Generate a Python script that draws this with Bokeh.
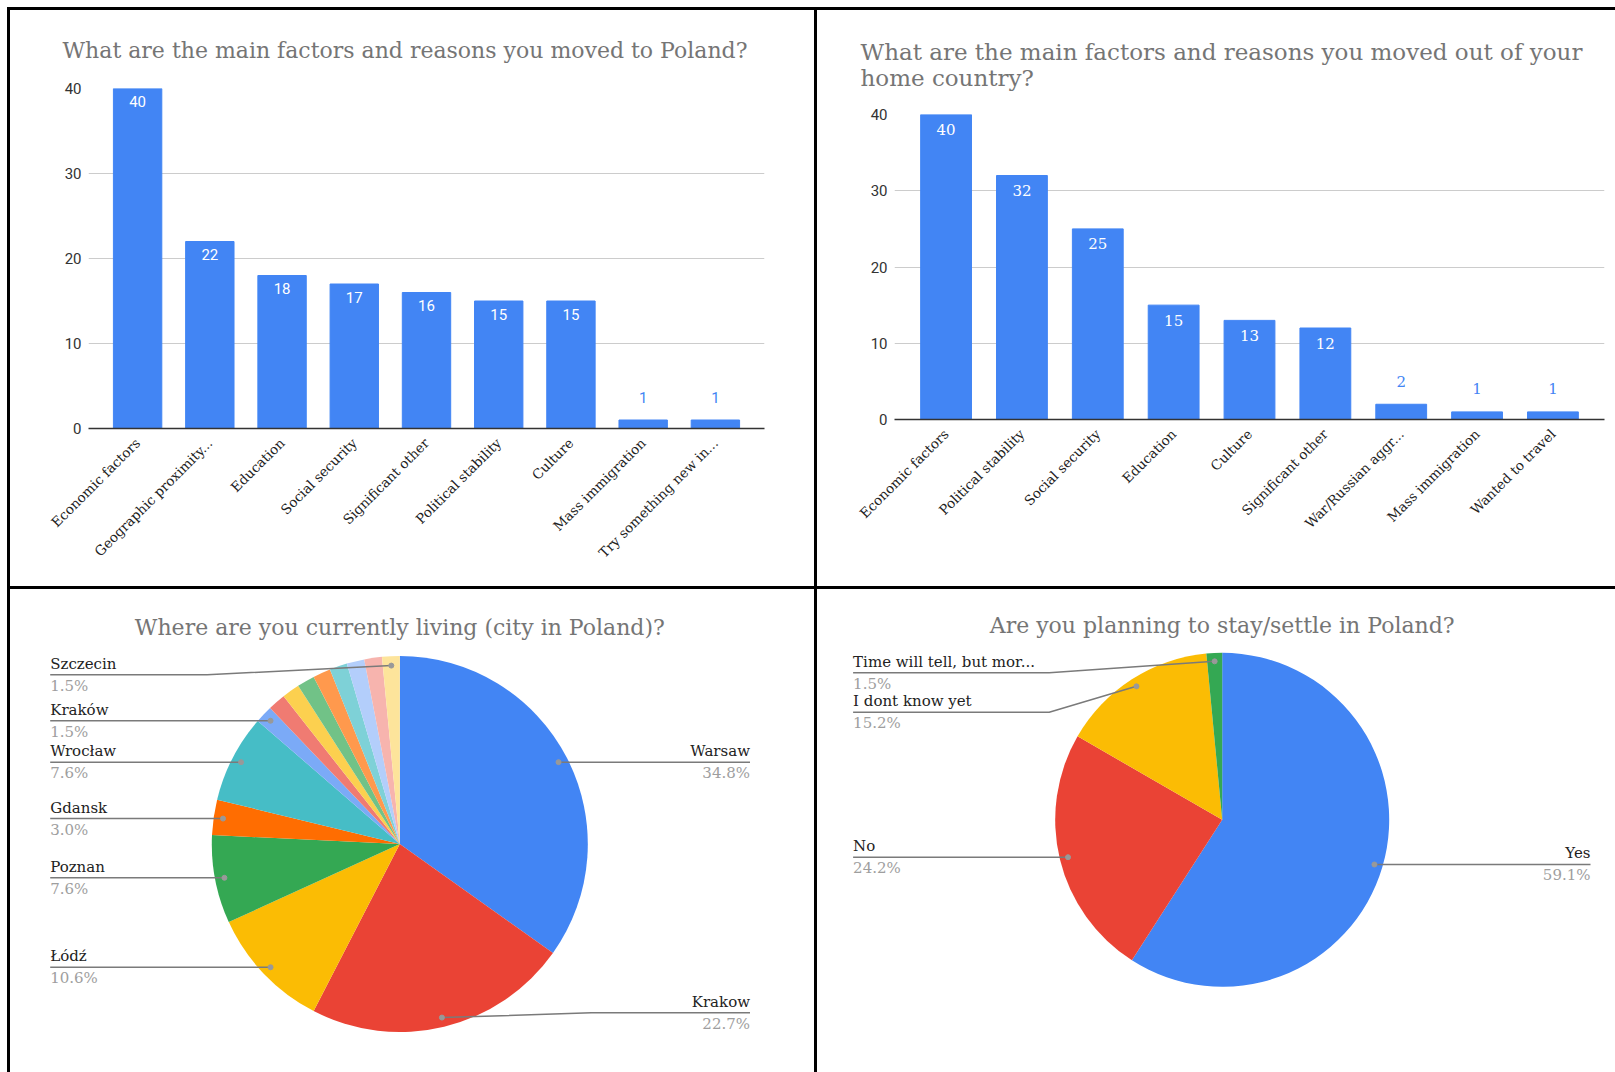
import math
from bokeh.plotting import figure
from bokeh.layouts import row, column
from bokeh.models import FactorRange, Range1d, FixedTicker, ColumnDataSource
from bokeh.core.properties import value
from bokeh.embed import file_html
from bokeh.resources import INLINE

# ---------------- DATA ----------------
moved_to_title = "What are the main factors and reasons you moved to Poland?"
moved_to_cats = ["Economic factors", "Geographic proximity...", "Education", "Social security",
                 "Significant other", "Political stability", "Culture", "Mass immigration",
                 "Try something new in..."]
moved_to_vals = [40, 22, 18, 17, 16, 15, 15, 1, 1]

moved_out_title = "What are the main factors and reasons you moved out of your\nhome country?"
moved_out_cats = ["Economic factors", "Political stability", "Social security", "Education",
                  "Culture", "Significant other", "War/Russian aggr...", "Mass immigration",
                  "Wanted to travel"]
moved_out_vals = [40, 32, 25, 15, 13, 12, 2, 1, 1]

y_ticks = [0, 10, 20, 30, 40]

city_title = "Where are you currently living (city in Poland)?"
city_names = ["Warsaw", "Krakow", "Łódź", "Poznan", "Gdansk", "Wrocław", "Kraków",
              "", "", "", "", "", "", "", "Szczecin"]
city_counts = [23, 15, 7, 5, 2, 5, 1, 1, 1, 1, 1, 1, 1, 1, 1]

stay_title = "Are you planning to stay/settle in Poland?"
stay_names = ["Yes", "No", "I dont know yet", "Time will tell, but mor..."]
stay_counts = [39, 16, 10, 1]

# ---------------- STYLE ----------------
BLUE = "#4285f4"
PALETTE = ["#4285f4", "#ea4335", "#fbbc04", "#34a853", "#ff6d01", "#46bdc6", "#7baaf7",
           "#f07b72", "#fcd04f", "#71c287", "#ff994d", "#7ed1d7", "#b3cefb", "#f7b4ae", "#fde49b"]
SERIF = "DejaVu Serif"
TITLE_COLOR = "#757575"
WHITE_BG = {"background-color": "white"}


def bar_panel(cats, vals, title, W, H, borders, value_font, in_off, out_off, t_offset,
              t_standoff, t_size):
    left, right, top, bottom = borders
    p = figure(width=W, height=H,
               x_range=FactorRange(factors=cats, range_padding=0.18, range_padding_units="absolute"),
               y_range=Range1d(0, max(y_ticks)),
               output_backend="svg", toolbar_location=None,
               min_border_left=left, min_border_right=right, min_border_top=top,
               min_border_bottom=bottom, margin=(3, 0, 0, 3),
               outline_line_color=None, styles=WHITE_BG)
    p.background_fill_color = "white"
    p.border_fill_color = "white"
    p.title.text = title
    p.title.text_font = SERIF
    p.title.text_font_size = t_size
    p.title.text_font_style = "normal"
    p.title.text_color = TITLE_COLOR
    p.title.align = "left"
    p.title.offset = t_offset
    p.title.standoff = t_standoff

    p.vbar(x=cats, top=vals, width=0.67, color=BLUE, line_color=BLUE)

    ymax = max(y_ticks)
    inside = [v / ymax >= 0.1 for v in vals]
    src = ColumnDataSource(dict(
        x=cats, y=vals, t=[str(v) for v in vals],
        c=["white" if i else BLUE for i in inside],
        off=[in_off if i else out_off for i in inside]))
    p.text(x="x", y="y", text="t", text_color="c", y_offset="off", source=src,
           text_align="center", text_baseline="middle",
           text_font=value(value_font), text_font_size="15px")

    p.yaxis.ticker = FixedTicker(ticks=y_ticks)
    p.yaxis.axis_line_color = None
    p.yaxis.major_tick_line_color = None
    p.yaxis.minor_tick_line_color = None
    p.yaxis.major_tick_out = 0
    p.yaxis.major_tick_in = 0
    p.yaxis.major_label_standoff = 7
    p.yaxis.major_label_text_font = "Roboto"
    p.yaxis.major_label_text_font_size = "15px"
    p.yaxis.major_label_text_color = "#333333"

    p.xaxis.axis_line_color = "#333333"
    p.xaxis.axis_line_width = 1.5
    p.xaxis.major_tick_line_color = None
    p.xaxis.minor_tick_line_color = None
    p.xaxis.major_tick_out = 0
    p.xaxis.major_tick_in = 0
    p.xaxis.major_label_orientation = math.pi / 4
    p.xaxis.major_label_standoff = 12
    p.xaxis.major_label_text_font = SERIF
    p.xaxis.major_label_text_font_size = "13.5px"
    p.xaxis.major_label_text_color = "#222222"

    p.xgrid.grid_line_color = None
    p.ygrid.ticker = FixedTicker(ticks=[t for t in y_ticks if t > 0])
    p.ygrid.grid_line_color = "#cccccc"
    return p


def pie_panel(names, counts, title, W, H, ox, oy, cx, cy, r, title_base, layout,
              left_x, right_x):
    p = figure(width=W, height=H, x_range=Range1d(0, W), y_range=Range1d(0, H),
               output_backend="svg", toolbar_location=None, min_border=0,
               x_axis_location=None, y_axis_location=None, margin=(3, 0, 0, 3),
               outline_line_color=None, styles=WHITE_BG)
    p.grid.visible = False
    p.background_fill_color = "white"
    p.border_fill_color = "white"

    def X(x):
        return x - ox

    def Y(y):
        return H - (y - oy)

    total = sum(counts)
    cum = [0]
    for c in counts:
        cum.append(cum[-1] + c)
    starts = [math.pi / 2 - 2 * math.pi * cum[i] / total for i in range(len(counts))]
    ends = [math.pi / 2 - 2 * math.pi * cum[i + 1] / total for i in range(len(counts))]
    src = ColumnDataSource(dict(s=starts, e=ends, c=PALETTE[:len(counts)]))
    p.wedge(x=X(cx), y=Y(cy), radius=r, start_angle="s", end_angle="e", direction="clock",
            fill_color="c", line_color=None, source=src)

    p.text(x=[X(cx)], y=[Y(title_base)], text=[title], text_align="center",
           text_baseline="alphabetic", y_offset=-8, text_font=value(SERIF),
           text_font_size="22px", text_color=TITLE_COLOR)

    lx, ly, dx, dy = [], [], [], []
    nx, ny, nt, na = [], [], [], []
    pt = []
    for i, name in enumerate(names):
        if name not in layout:
            continue
        side, line_y, elbow = layout[name]
        mid = 2 * math.pi * (cum[i] + counts[i] / 2) / total
        dot_x = cx + 0.95 * r * math.sin(mid)
        dot_y = cy - 0.95 * r * math.cos(mid)
        if line_y is None:
            line_y = dot_y
        end_x = left_x if side == "left" else right_x
        if elbow is None:
            xs = [end_x, dot_x]
            ys = [line_y, dot_y]
        else:
            xs = [end_x, elbow, dot_x]
            ys = [line_y, line_y, dot_y]
        lx.append([X(v) for v in xs])
        ly.append([Y(v) for v in ys])
        dx.append(X(dot_x))
        dy.append(Y(dot_y))
        nx.append(X(end_x))
        ny.append(Y(line_y))
        nt.append(name)
        na.append("left" if side == "left" else "right")
        pt.append(f"{counts[i] / total * 100:.1f}%")
    p.multi_line(xs=lx, ys=ly, line_color="#7a7a7a", line_width=1.5)
    p.scatter(x=dx, y=dy, size=5, color="#999999")
    tsrc = ColumnDataSource(dict(x=nx, y=ny, t=nt, a=na, pt=pt))
    p.text(x="x", y="y", text="t", text_align="a", text_baseline="alphabetic", y_offset=-11,
           text_font=value(SERIF), text_font_size="15px", text_color="#222222", source=tsrc)
    p.text(x="x", y="y", text="pt", text_align="a", text_baseline="top", y_offset=2,
           text_font=value(SERIF), text_font_size="15px", text_color="#9e9e9e", source=tsrc)
    return p


p1 = bar_panel(moved_to_cats, moved_to_vals, moved_to_title, 804, 576,
               (78, 50, 78, 158), "Roboto", 13, -23, -26, 51, "22px")
p2 = bar_panel(moved_out_cats, moved_out_vals, moved_out_title, 798, 576,
               (77, 11, 104, 167), SERIF, 15, -23, -34, 48, "23px")

city_layout = {
    "Szczecin": ("left", 674.3, 206.6),
    "Kraków": ("left", None, None),
    "Wrocław": ("left", None, None),
    "Gdansk": ("left", None, None),
    "Poznan": ("left", None, None),
    "Łódź": ("left", None, None),
    "Warsaw": ("right", None, None),
    "Krakow": ("right", 1012.3, 591.0),
}
stay_layout = {
    "Time will tell, but mor...": ("left", 672.3, 1048.7),
    "I dont know yet": ("left", 711.7, 1048.7),
    "No": ("left", None, None),
    "Yes": ("right", None, None),
}

p3 = pie_panel(city_names, city_counts, city_title, 804, 483, 10, 589,
               399.3, 843.5, 188, 635, city_layout, 49.7, 749.5)
p4 = pie_panel(stay_names, stay_counts, stay_title, 798, 483, 817, 589,
               1221.7, 819.3, 167, 633.3, stay_layout, 852.6, 1590)

layout = column(row(column(p1), column(p2), spacing=0),
                row(column(p3), column(p4), spacing=0), spacing=0,
                margin=(7, 0, 0, 7), styles={"background-color": "black"})

open("out.html", "w").write(file_html(layout, INLINE))
